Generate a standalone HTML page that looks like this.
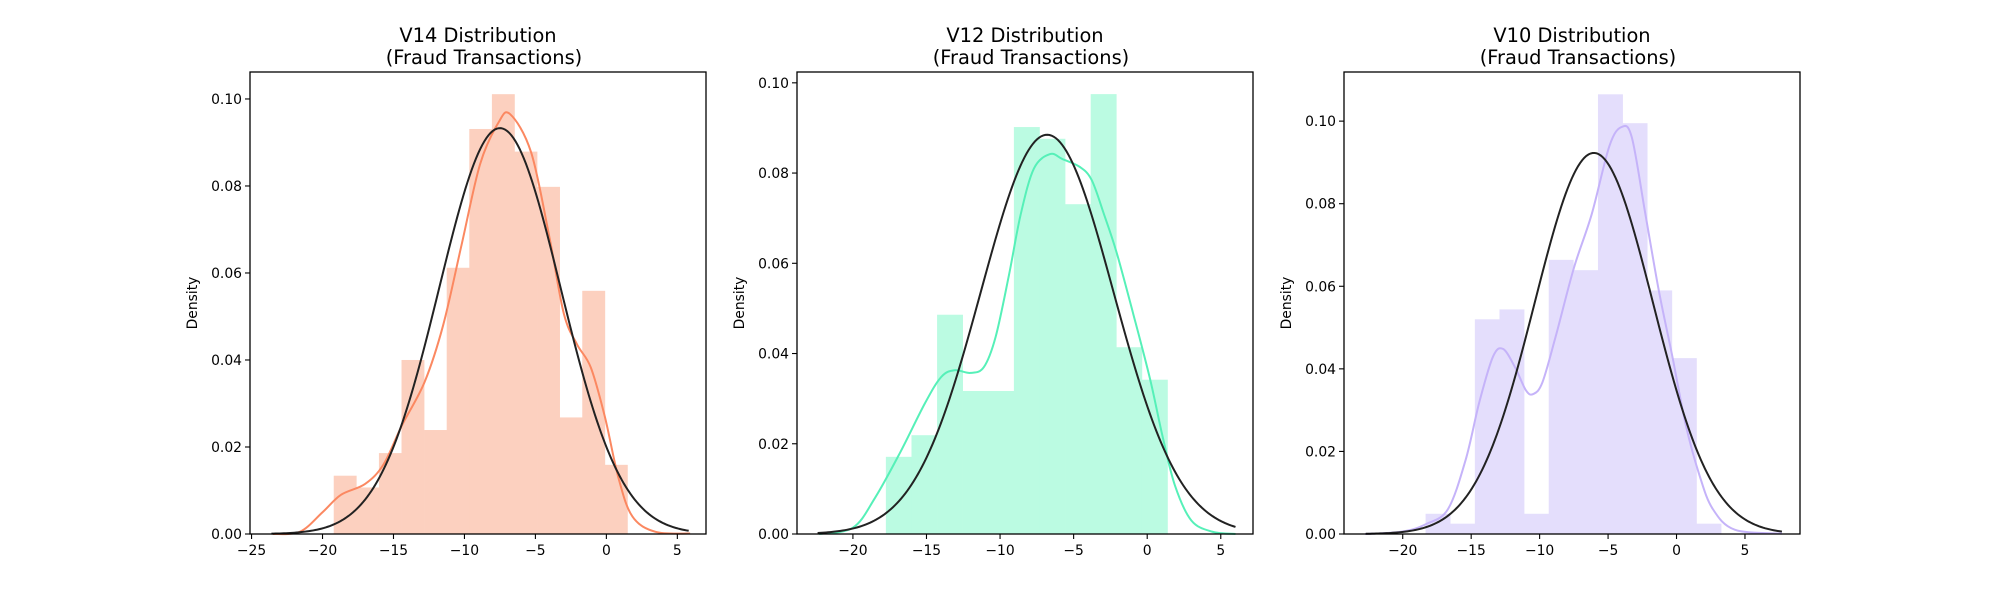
<!DOCTYPE html>
<html><head><meta charset="utf-8"><style>
html,body{margin:0;padding:0;background:#fff;}
svg{display:block;font-family:"DejaVu Sans","Liberation Sans",sans-serif;}
</style></head><body>
<svg id="fig" width="2000" height="600" viewBox="0 0 2000 600" xmlns="http://www.w3.org/2000/svg"></svg>
<script>
// ---- V14 ----
const v14BinStart = -19.21, v14BinWidth = 1.592;
const v14Hist = [0.0134,0.0107,0.0186,0.040,0.0239,0.0612,0.0931,0.1011,0.0879,0.0798,0.0268,0.0559,0.0159];
const v14KdeX = [-23.5,-21.6,-20,-18.7,-17,-15.7,-14.4,-12.8,-11.5,-10.2,-8.9,-7.6,-6.78,-5.3,-4.0,-3.0,-2.07,-1.1,-0.11,0.86,1.84,3.46,5.9];
const v14KdeY = [0,0.0005,0.005,0.009,0.0115,0.016,0.025,0.035,0.048,0.0665,0.085,0.0946,0.0965,0.0877,0.068,0.0507,0.0436,0.0383,0.027,0.0128,0.004,0.0005,0.0001];
const v14Norm = [-7.5,4.276,-23.6,5.8]; // mean, sd, from, to
const v14XTicks = [-25,-20,-15,-10,-5,0,5];
const v14YTicks = [0,0.02,0.04,0.06,0.08,0.10];
// ---- V12 ----
const v12BinStart = -17.76, v12BinWidth = 1.74;
const v12Hist = [0.0171,0.0219,0.0486,0.0317,0.0317,0.0902,0.0876,0.0731,0.0975,0.0414,0.0342];
const v12KdeX = [-22.3,-20,-18.5,-16.8,-15.1,-14.0,-13.1,-12,-11.1,-10.3,-9.4,-8.6,-7.7,-6.6,-5.76,-4.6,-3.78,-2.93,-2.08,-0.95,0.19,1.04,1.89,3.0,4.43,6.0];
const v12KdeY = [0,0.0014,0.008,0.018,0.029,0.0348,0.0363,0.0357,0.037,0.0437,0.0573,0.0708,0.081,0.0842,0.0831,0.0814,0.0785,0.0708,0.0624,0.0488,0.0344,0.0217,0.0107,0.003,0.0005,0];
const v12Norm = [-6.8,4.508,-22.4,6.0];
const v12XTicks = [-20,-15,-10,-5,0,5];
const v12YTicks = [0,0.02,0.04,0.06,0.08,0.10];
// ---- V10 ----
const v10BinStart = -18.33, v10BinWidth = 1.799;
const v10Hist = [0.0049,0.0025,0.052,0.0544,0.0049,0.0664,0.0639,0.1065,0.0995,0.059,0.0426,0.0025];
const v10KdeX = [-22.75,-20,-18.3,-16.7,-15.4,-14.4,-13.4,-12.66,-11.8,-11.0,-10.47,-9.8,-8.83,-7.5,-6.2,-4.9,-4.0,-3.26,-2.27,-1.29,-0.31,0.67,1.66,2.64,4.28,7.7];
const v10KdeY = [0,0.0006,0.0024,0.006,0.018,0.032,0.043,0.0448,0.0404,0.0348,0.0339,0.0367,0.0478,0.0644,0.0774,0.094,0.0986,0.096,0.0774,0.0589,0.0431,0.0265,0.0144,0.0061,0.001,0.0001];
const v10Norm = [-6.04,4.322,-22.7,7.7];
const v10XTicks = [-20,-15,-10,-5,0,5];
const v10YTicks = [0,0.02,0.04,0.06,0.08,0.10];

const NS="http://www.w3.org/2000/svg";
const fig=document.getElementById('fig');
function mk(tag,attrs,parent){const e=document.createElementNS(NS,tag);for(const k in attrs)e.setAttribute(k,attrs[k]);(parent||fig).appendChild(e);return e;}
function smoothPath(pts){
  let d='M'+pts[0][0].toFixed(2)+','+pts[0][1].toFixed(2);
  for(let i=0;i<pts.length-1;i++){
    const p0=pts[i-1]||pts[i],p1=pts[i],p2=pts[i+1],p3=pts[i+2]||p2;
    const c1=[p1[0]+(p2[0]-p0[0])/6,p1[1]+(p2[1]-p0[1])/6];
    const c2=[p2[0]-(p3[0]-p1[0])/6,p2[1]-(p3[1]-p1[1])/6];
    d+='C'+c1[0].toFixed(2)+','+c1[1].toFixed(2)+' '+c2[0].toFixed(2)+','+c2[1].toFixed(2)+' '+p2[0].toFixed(2)+','+p2[1].toFixed(2);
  }
  return d;
}
function fmtY(v){return v.toFixed(2);}
function fmtX(v){return v<0?'\u2212'+Math.abs(v):String(v);}

function panel(cfg){
  const g=mk('g',{});
  
  
  const L=cfg.left,R=cfg.left+456,T=72,B=534;
  const xs=v=>L+(v-cfg.xmin)/(cfg.xmax-cfg.xmin)*(R-L);
  const ys=v=>B-(v/cfg.ymax)*(B-T);
  // histogram
  cfg.hist.forEach((h,i)=>{
    const x0=xs(cfg.binStart+i*cfg.binWidth),x1=xs(cfg.binStart+(i+1)*cfg.binWidth);
    const r=mk('rect',{x:x0,y:ys(h),width:x1-x0+0.3,height:B-ys(h),fill:cfg.histColor},g);
    
    
  });
  // kde
  const kp=cfg.kdeX.map((x,i)=>[xs(x),ys(cfg.kdeY[i])]);
  const kde=mk('path',{d:smoothPath(kp),fill:'none',stroke:cfg.lineColor,'stroke-width':2},g);
  
  
  // normal fit
  const [mu,sd,a,b]=cfg.norm;const np=[];
  for(let k=0;k<=200;k++){const x=a+(b-a)*k/200;const y=Math.exp(-0.5*((x-mu)/sd)**2)/(sd*Math.sqrt(2*Math.PI));np.push(xs(x).toFixed(2)+','+ys(y).toFixed(2));}
  const nl=mk('polyline',{points:np.join(' '),fill:'none',stroke:'#222','stroke-width':2},g);
  
  
  // frame
  const fr=mk('rect',{x:L,y:T,width:R-L,height:B-T,fill:'none',stroke:'#000','stroke-width':1.3},g);
  
  
  // x ticks
  cfg.xTicks.forEach(t=>{
    const x=xs(t);
    mk('line',{x1:x,y1:B,x2:x,y2:B+5,stroke:'#000','stroke-width':1.1},g);
    const tx=mk('text',{x:x,y:B+21,'font-size':13.9,'text-anchor':'middle',fill:'#000'},g);
    tx.textContent=fmtX(t);
    
    
  });
  cfg.yTicks.forEach(t=>{
    const y=ys(t);
    mk('line',{x1:L,y1:y,x2:L-5,y2:y,stroke:'#000','stroke-width':1.1},g);
    const tx=mk('text',{x:L-8,y:y+5,'font-size':13.9,'text-anchor':'end',fill:'#000'},g);
    tx.textContent=fmtY(t);
    
    
  });
  const yl=mk('text',{x:0,y:0,'font-size':13.9,'text-anchor':'middle',fill:'#000',transform:'translate('+(L-53)+','+((T+B)/2)+') rotate(-90)'},g);
  yl.textContent='Density';
  
  
  const cx=(L+R)/2;
  const t1=mk('text',{x:cx,y:42,'font-size':19.4,'text-anchor':'middle',fill:'#000'},g);
  t1.textContent=cfg.title;
  
  
  const t2=mk('text',{x:cx+6,y:64,'font-size':19.4,'text-anchor':'middle',fill:'#000'},g);
  t2.textContent='(Fraud Transactions)';
  
  
}
panel({name:'v14',left:250,xmin:-25.11,xmax:7.02,ymax:0.1062,hist:v14Hist,binStart:v14BinStart,binWidth:v14BinWidth,kdeX:v14KdeX,kdeY:v14KdeY,norm:v14Norm,xTicks:v14XTicks,yTicks:v14YTicks,histColor:'#fcd0bf',lineColor:'#fb8861',title:'V14 Distribution'});
panel({name:'v12',left:797,xmin:-23.8,xmax:7.19,ymax:0.1024,hist:v12Hist,binStart:v12BinStart,binWidth:v12BinWidth,kdeX:v12KdeX,kdeY:v12KdeY,norm:v12Norm,xTicks:v12XTicks,yTicks:v12YTicks,histColor:'#bbfbe2',lineColor:'#56f0b8',title:'V12 Distribution'});
panel({name:'v10',left:1344,xmin:-24.29,xmax:9.02,ymax:0.1119,hist:v10Hist,binStart:v10BinStart,binWidth:v10BinWidth,kdeX:v10KdeX,kdeY:v10KdeY,norm:v10Norm,xTicks:v10XTicks,yTicks:v10YTicks,histColor:'#e4defc',lineColor:'#c5b3f9',title:'V10 Distribution'});
</script>
</body></html>
